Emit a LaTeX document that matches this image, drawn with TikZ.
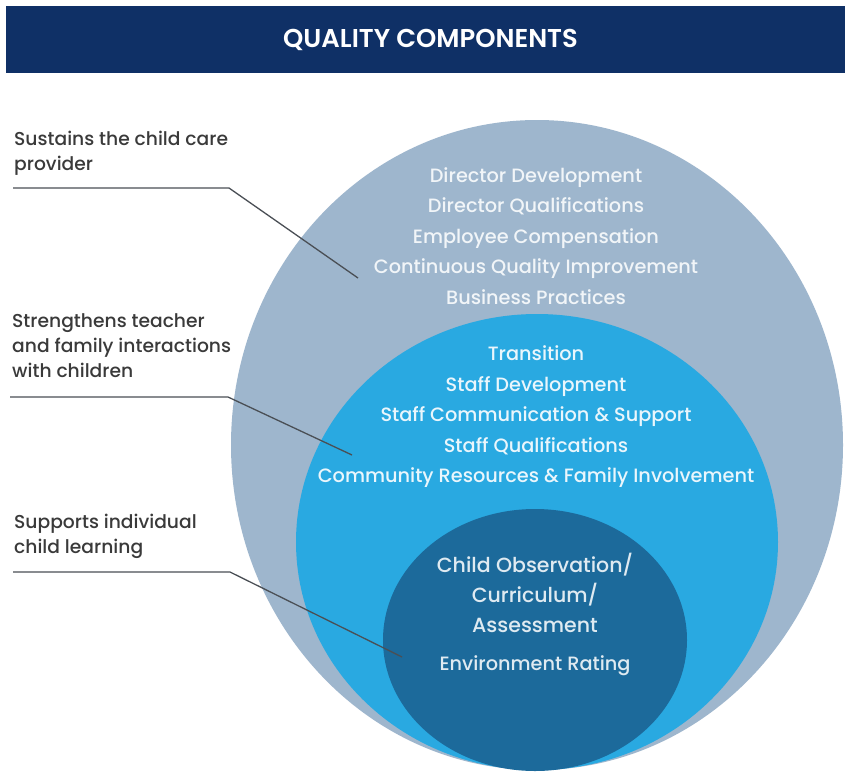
\documentclass[tikz,border=0pt]{standalone}
\usepackage{fontspec}
\setmainfont{Poppins}[UprightFont=* Medium, BoldFont=* SemiBold]
\definecolor{navy}{HTML}{0F3066}
\definecolor{ringouter}{HTML}{9EB6CD}
\definecolor{ringmid}{HTML}{29A9E1}
\definecolor{ringinner}{HTML}{1C6A9B}
\definecolor{labelgrey}{HTML}{3A3A3A}
\definecolor{leader}{HTML}{4A4F55}
\begin{document}
\begin{tikzpicture}[x=1pt,y=-1pt,
  sidelabel/.style={anchor=north west,inner sep=0pt,align=left,text=labelgrey,
    font=\fontsize{18.7}{25}\selectfont},
  ringtext/.style={inner sep=0pt,align=center,text=white,
    font=\fontsize{19.3}{30.5}\selectfont},
  leaderline/.style={draw=leader,line width=1.3pt}]
\useasboundingbox (0,0) rectangle (849,772);
\fill[white] (0,0) rectangle (849,772);

% title bar
\fill[navy] (6,6) rectangle (845,73);
\node[text=white,font=\bfseries\fontsize{25.8}{28}\selectfont] (title) at (430.5,40) {QUALITY COMPONENTS};

% nested rings
\fill[ringouter] (537,445) ellipse [x radius=306, y radius=325];
\fill[ringmid] (537,542) ellipse [x radius=241, y radius=228];
\fill[ringinner] (535,640) ellipse [x radius=152, y radius=131];

% ring contents
\node[ringtext,text=white!86!ringouter] (outertext) at (536,236)
  {Director Development\\Director Qualifications\\Employee Compensation\\Continuous Quality Improvement\\Business Practices};
\node[ringtext,text=white!90!ringmid] (midtext) at (536,417)
  {Transition\\Staff Development\\Staff Communication \& Support\\Staff Qualifications\\Community Resources \& Family Involvement};
\node[ringtext,text=white!86!ringinner,font=\fontsize{20.5}{30}\selectfont] (innertext) at (535,593)
  {Child Observation/\\Curriculum/\\Assessment};
\node[ringtext,text=white!86!ringinner] (envtext) at (535,666) {Environment Rating};

% side labels
\node[sidelabel] (lab1) at (14,130.5) {Sustains the child care\\provider};
\node[sidelabel] (lab2) at (12,313.5) {Strengthens teacher\\and family interactions\\with children};
\node[sidelabel] (lab3) at (14,514) {Supports individual\\child learning};

% leader lines
\coordinate (l1a) at (13,188);  \coordinate (l1b) at (229,188);  \coordinate (l1c) at (358,278);
\coordinate (l2a) at (10,397);  \coordinate (l2b) at (228,397);  \coordinate (l2c) at (352,455);
\coordinate (l3a) at (13,572);  \coordinate (l3b) at (230,572);  \coordinate (l3c) at (402,657);
\draw[leaderline] (l1a) -- (l1b) -- (l1c);
\draw[leaderline] (l2a) -- (l2b) -- (l2c);
\draw[leaderline] (l3a) -- (l3b) -- (l3c);
\end{tikzpicture}
\end{document}
